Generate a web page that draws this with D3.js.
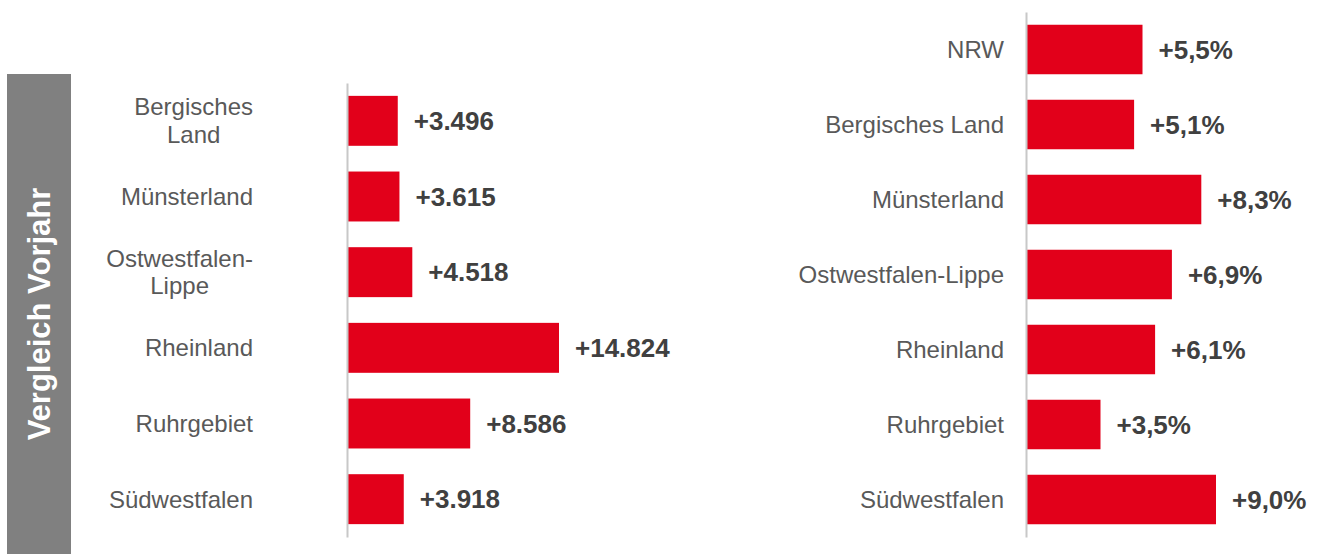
<!DOCTYPE html>
<html>
<head>
<meta charset="utf-8">
<script src="https://cdn.jsdelivr.net/npm/d3@7"></script>
<style>
  body { margin: 0; background: #fff; }
  svg { display: block; font-family: "Liberation Sans", Arial, sans-serif; }
</style>
</head>
<body>
<div id="chart"></div>
<script>
// left panel: absolute change vs. previous year
const leftRegions = ['Bergisches\nLand', 'Münsterland', 'Ostwestfalen-\nLippe', 'Rheinland', 'Ruhrgebiet', 'Südwestfalen'];
const leftValues  = [3496, 3615, 4518, 14824, 8586, 3918];

// right panel: relative change vs. previous year (%)
const rightRegions = ['NRW', 'Bergisches Land', 'Münsterland', 'Ostwestfalen-Lippe', 'Rheinland', 'Ruhrgebiet', 'Südwestfalen'];
const rightValues  = [5.5, 5.1, 8.3, 6.9, 6.1, 3.5, 9.0];

const sideTitle = 'Vergleich Vorjahr';

const red = '#e2001a';
const de = d3.formatLocale({decimal: ',', thousands: '.', grouping: [3], currency: ['', ' €']});
const fmtAbs = v => '+' + de.format(',')(v);
const fmtPct = v => '+' + de.format('.1f')(v) + '%';

const width = 1324, height = 554;
const svg = d3.select('#chart')
  .append('svg')
    .attr('width', width)
    .attr('height', height);

// grey side band with rotated title
svg.append('rect')
  .attr('x', 7).attr('y', 74)
  .attr('width', 64).attr('height', height - 74)
  .attr('fill', '#808080');
svg.append('text')
  .attr('transform', 'translate(50,314) rotate(-90)')
  .attr('text-anchor', 'middle')
  .attr('fill', '#fff')
  .attr('font-weight', 'bold')
  .attr('font-size', 31)
  .text(sideTitle);

// draws one bar panel
function panel(opts) {
  const {cats, values, x0, top, bottom, max, span, labelRight, fmt} = opts;
  const keys = cats.map((_, i) => i);

  const y = d3.scaleBand()
    .domain(keys)
    .range([top, bottom])
    .paddingInner(0.34)
    .paddingOuter(0.17);

  const x = d3.scaleLinear()
    .domain([0, max])
    .range([x0, x0 + span]);

  const g = svg.append('g');

  g.selectAll('rect')
    .data(values)
    .join('rect')
      .attr('x', x(0) + 1)
      .attr('y', (d, i) => y(i))
      .attr('width', d => x(d) - x(0))
      .attr('height', y.bandwidth())
      .attr('fill', red);

  // axis line only
  g.append('g')
    .attr('transform', `translate(${x0},0)`)
    .call(d3.axisLeft(y).tickSize(0).tickFormat(''))
    .call(a => a.select('.domain').attr('stroke', '#c8c8c8').attr('stroke-width', 2));

  // value labels
  g.selectAll('text.val')
    .data(values)
    .join('text')
      .attr('class', 'val')
      .attr('x', d => x(d) + 17)
      .attr('y', (d, i) => y(i) + y.bandwidth() / 2)
      .attr('dy', '0.35em')
      .attr('font-size', 26)
      .attr('font-weight', 'bold')
      .attr('fill', '#404040')
      .text(fmt);

  // category labels (multi-line blocks centered on widest line)
  cats.forEach((c, i) => {
    const lines = c.split('\n');
    const cy = y(i) + y.bandwidth() / 2;
    const lh = 27.5;
    const t = g.append('text')
      .attr('font-size', 24)
      .attr('fill', '#595959');
    lines.forEach((l, j) => {
      t.append('tspan')
        .attr('y', cy + (j - (lines.length - 1) / 2) * lh)
        .attr('dy', '0.35em')
        .text(l);
    });
    if (lines.length === 1) {
      t.attr('text-anchor', 'end');
      t.selectAll('tspan').attr('x', labelRight);
    } else {
      const w = d3.max(t.selectAll('tspan').nodes(), n => n.getComputedTextLength());
      t.attr('text-anchor', 'middle');
      t.selectAll('tspan').attr('x', labelRight - w / 2);
    }
  });
}

panel({cats: leftRegions, values: leftValues, x0: 347, top: 83, bottom: 537,
       max: 15000, span: 213.5, labelRight: 253, fmt: fmtAbs});
panel({cats: rightRegions, values: rightValues, x0: 1026, top: 12, bottom: 537,
       max: 10, span: 210, labelRight: 1004, fmt: fmtPct});
</script>
</body>
</html>
